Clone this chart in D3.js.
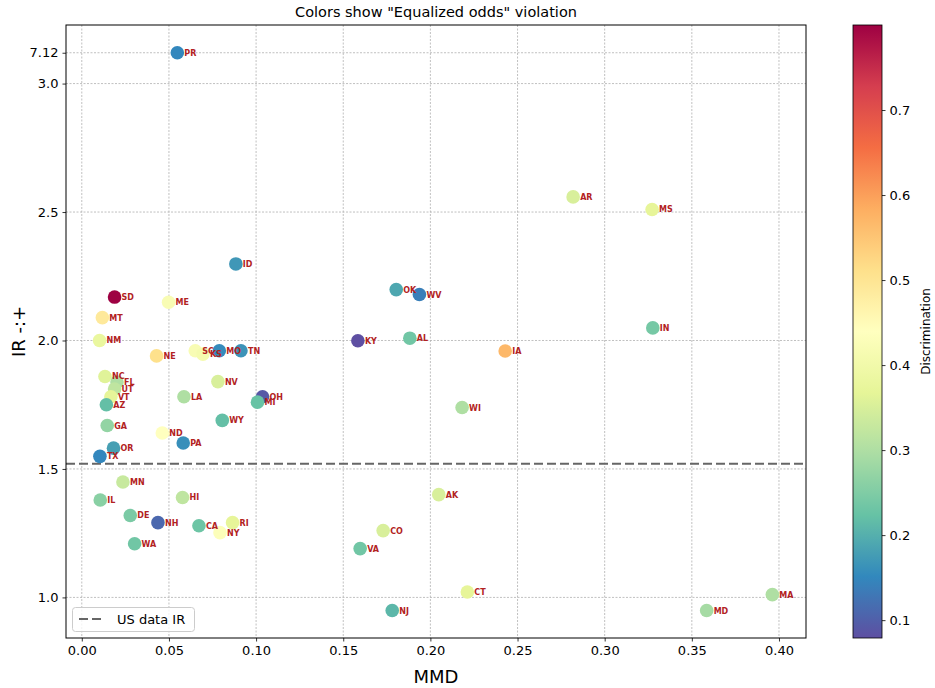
<!DOCTYPE html>
<html>
<head>
<meta charset="utf-8">
<script src="https://cdn.jsdelivr.net/npm/d3@7"></script>
<style>
  body { margin: 0; background: #fff; }
  svg { font-family: "DejaVu Sans", sans-serif; }
</style>
</head>
<body>
<svg id="chart" width="935" height="688"></svg>
<script>
// ---- data ----
const states = ["PR","AR","MS","ID","OK","WV","SD","ME","MT","IN","NM","KY","AL","IA","NE","SC","KS","MO","TN",
  "NC","FL","UT","VT","AZ","NV","LA","OH","MI","WY","GA","ND","PA","OR","TX","MN","IL","HI","DE","NH","CA","RI",
  "NY","WA","WI","AK","CO","VA","CT","NJ","MD","MA"];
const mmd = [0.0548,0.2819,0.3272,0.0884,0.1804,0.1937,0.0188,0.0498,0.0118,0.3276,0.0102,0.1584,0.1882,0.2429,0.0429,0.0651,0.0695,0.0789,0.0913,
  0.0133,0.0202,0.0188,0.0167,0.0141,0.0781,0.0586,0.1037,0.1008,0.0806,0.0146,0.0462,0.0582,0.0182,0.0104,0.0236,0.0106,0.0578,0.0278,0.0437,0.0672,0.0865,
  0.0793,0.0303,0.2182,0.2048,0.1729,0.1597,0.2212,0.1781,0.3585,0.3962];
const ir = [7.12,2.559,2.510,2.298,2.198,2.179,2.169,2.149,2.089,2.049,2.000,1.999,2.009,1.959,1.940,1.960,1.947,1.960,1.960,
  1.860,1.838,1.811,1.781,1.750,1.840,1.781,1.781,1.760,1.689,1.669,1.640,1.601,1.581,1.549,1.449,1.379,1.389,1.319,1.291,1.279,1.291,
  1.252,1.209,1.739,1.400,1.260,1.190,1.021,0.949,0.949,1.011];
const discrimination = [0.15,0.35,0.37,0.17,0.19,0.14,0.80,0.42,0.49,0.24,0.38,0.079,0.235,0.57,0.51,0.42,0.41,0.155,0.165,
  0.36,0.30,0.32,0.37,0.22,0.35,0.30,0.09,0.225,0.22,0.27,0.44,0.16,0.18,0.15,0.33,0.26,0.32,0.245,0.11,0.23,0.37,
  0.43,0.235,0.30,0.35,0.35,0.235,0.37,0.21,0.29,0.30];
const usDataIR = 1.52;
const xTicks = [0.00,0.05,0.10,0.15,0.20,0.25,0.30,0.35,0.40];
const yTicks = [1.0,1.5,2.0,2.5,3.0];
const cbTicks = [0.1,0.2,0.3,0.4,0.5,0.6,0.7];
const spectral = ["#9e0142","#d53e4f","#f46d43","#fdae61","#fee08b","#ffffbf","#e6f598","#abdda4","#66c2a5","#3288bd","#5e4fa2"];
const yCap = 3.0;          // values above this are drawn just above the cap
const yCapShown = 3.12;

// ---- layout ----
const svg = d3.select("#chart");
const L = 66, R = 806, T = 25, B = 638;
const x = d3.scaleLinear().domain([-0.00906, 0.4155]).range([L, R]);
const y = d3.scaleLinear().domain([0.842, 3.228]).range([B, T]);
const vmin = d3.min(discrimination), vmax = d3.max(discrimination);
// Spectral_r: low -> purple, high -> dark red
const color = d3.scaleLinear()
  .domain(spectral.map((_, i) => vmax - i * (vmax - vmin) / (spectral.length - 1)))
  .range(spectral).interpolate(d3.interpolateRgb);
const yPlot = v => v > yCap ? yCapShown : v;

const data = states.map((s, i) => ({s, x: mmd[i], y: ir[i], d: discrimination[i]}));

// grid
const grid = svg.append("g");
xTicks.forEach(t => grid.append("line").attr("x1", x(t)).attr("x2", x(t)).attr("y1", T).attr("y2", B)
  .attr("stroke", "#b0b0b0").attr("stroke-width", 0.8).attr("stroke-dasharray", "2,1.5"));
const outliers = data.filter(d => d.y > yCap);
const yTickPos = yTicks.concat(outliers.map(d => yCapShown));
yTickPos.forEach(t => grid.append("line").attr("x1", L).attr("x2", R).attr("y1", y(t)).attr("y2", y(t))
  .attr("stroke", "#b0b0b0").attr("stroke-width", 0.8).attr("stroke-dasharray", "2,1.5"));

// US line
svg.append("line").attr("x1", L).attr("x2", R).attr("y1", y(usDataIR)).attr("y2", y(usDataIR))
  .attr("stroke", "#666").attr("stroke-width", 2).attr("stroke-dasharray", "9,4");

// points
svg.append("g").selectAll("circle").data(data).join("circle")
  .attr("cx", d => x(d.x)).attr("cy", d => y(yPlot(d.y))).attr("r", 6.8)
  .attr("fill", d => color(d.d));
svg.append("g").selectAll("text").data(data).join("text")
  .attr("x", d => x(d.x) + 7).attr("y", d => y(yPlot(d.y)) + 3)
  .attr("font-size", 8).attr("font-weight", "bold").attr("fill", "#b22222")
  .text(d => d.s);

// axes
const xAxis = d3.axisBottom(x).tickValues(xTicks).tickFormat(d3.format(".2f")).tickSizeOuter(0).tickSize(3.5).tickPadding(4);
const gx = svg.append("g").attr("transform", `translate(0,${B})`).call(xAxis);
const yLabels = new Map(yTicks.map(t => [t, d3.format(".1f")(t)]));
outliers.forEach(d => yLabels.set(yCapShown, String(d.y)));
const yAxis = d3.axisLeft(y).tickValues(yTickPos).tickFormat(t => yLabels.get(t)).tickSizeOuter(0).tickSize(3.5).tickPadding(4);
const gy = svg.append("g").attr("transform", `translate(${L},0)`).call(yAxis);
[gx, gy].forEach(g => {
  g.select(".domain").remove();
  g.selectAll("text").attr("font-size", 13).attr("font-family", "DejaVu Sans").attr("fill", "#000");
  g.selectAll("line").attr("stroke", "#000").attr("stroke-width", 0.8);
});
svg.append("rect").attr("x", L).attr("y", T).attr("width", R - L).attr("height", B - T)
  .attr("fill", "none").attr("stroke", "#000").attr("stroke-width", 1);

// titles
svg.append("text").attr("x", (L + R) / 2).attr("y", 17).attr("text-anchor", "middle")
  .attr("font-size", 14.5).text('Colors show "Equalized odds" violation');
svg.append("text").attr("x", (L + R) / 2).attr("y", 683).attr("text-anchor", "middle")
  .attr("font-size", 18).text("MMD");
svg.append("text").attr("transform", `translate(25,${(T + B) / 2}) rotate(-90)`).attr("text-anchor", "middle")
  .attr("font-size", 18).text("IR -:+");

// legend
const lg = svg.append("g");
lg.append("rect").attr("x", 72.5).attr("y", 607.5).attr("width", 122).attr("height", 24).attr("rx", 3)
  .attr("fill", "#fff").attr("fill-opacity", 0.8).attr("stroke", "#ccc");
lg.append("line").attr("x1", 79).attr("x2", 104).attr("y1", 619).attr("y2", 619)
  .attr("stroke", "#666").attr("stroke-width", 2).attr("stroke-dasharray", "9,4");
lg.append("text").attr("x", 117).attr("y", 624).attr("font-size", 13).text("US data IR");

// colorbar
const cbX = 853, cbW = 29;
const cb = d3.scaleLinear().domain([vmin, vmax]).range([B, T]);
const defs = svg.append("defs");
const grad = defs.append("linearGradient").attr("id", "cbg").attr("x1", 0).attr("x2", 0).attr("y1", 1).attr("y2", 0);
d3.range(0, 1.0001, 0.02).forEach(f => grad.append("stop").attr("offset", f)
  .attr("stop-color", color(vmin + f * (vmax - vmin))));
svg.append("rect").attr("x", cbX).attr("y", T).attr("width", cbW).attr("height", B - T)
  .attr("fill", "url(#cbg)").attr("stroke", "#000").attr("stroke-width", 0.8);
const cbAxis = d3.axisRight(cb).tickValues(cbTicks).tickFormat(d3.format(".1f")).tickSize(3.5).tickPadding(4).tickSizeOuter(0);
const gcb = svg.append("g").attr("transform", `translate(${cbX + cbW},0)`).call(cbAxis);
gcb.select(".domain").remove();
gcb.selectAll("text").attr("font-size", 13).attr("font-family", "DejaVu Sans").attr("fill", "#000");
gcb.selectAll("line").attr("stroke", "#000").attr("stroke-width", 0.8);
svg.append("text").attr("transform", `translate(930,${(T + B) / 2}) rotate(-90)`).attr("text-anchor", "middle")
  .attr("font-size", 12).text("Discrimination");
</script>
</body>
</html>
